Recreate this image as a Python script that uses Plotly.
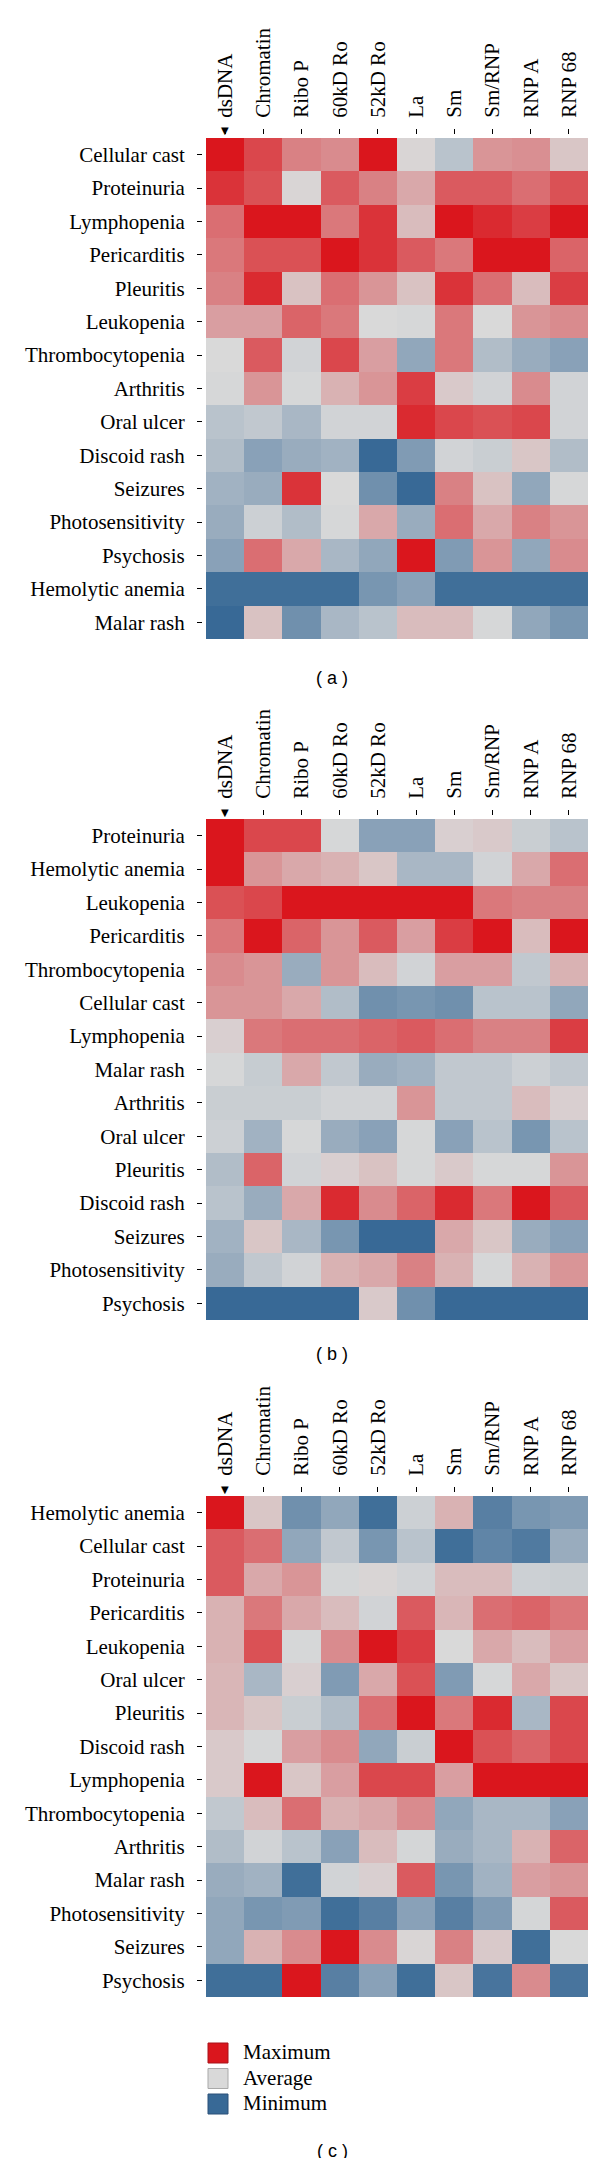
import plotly.graph_objects as go

W, H = 600, 2158

antigens = ["dsDNA", "Chromatin", "Ribo P", "60kD Ro", "52kD Ro", "La", "Sm", "Sm/RNP", "RNP A", "RNP 68"]

rows_a = ["Cellular cast", "Proteinuria", "Lymphopenia", "Pericarditis", "Pleuritis", "Leukopenia",
          "Thrombocytopenia", "Arthritis", "Oral ulcer", "Discoid rash", "Seizures", "Photosensitivity",
          "Psychosis", "Hemolytic anemia", "Malar rash"]
vals_a = [
    [1.00, 0.75, 0.45, 0.40, 1.00, 0.02, -0.20, 0.35, 0.38, 0.10],
    [0.85, 0.70, 0.02, 0.65, 0.45, 0.25, 0.65, 0.65, 0.55, 0.70],
    [0.55, 1.00, 1.00, 0.50, 0.85, 0.15, 1.00, 0.90, 0.80, 1.00],
    [0.50, 0.70, 0.70, 1.00, 0.85, 0.65, 0.50, 1.00, 1.00, 0.60],
    [0.45, 0.90, 0.12, 0.55, 0.35, 0.12, 0.85, 0.55, 0.15, 0.80],
    [0.30, 0.30, 0.60, 0.50, 0.00, -0.02, 0.50, 0.00, 0.35, 0.40],
    [0.00, 0.65, -0.05, 0.75, 0.30, -0.45, 0.50, -0.25, -0.40, -0.50],
    [-0.02, 0.35, -0.02, 0.20, 0.35, 0.80, 0.08, -0.05, 0.40, -0.05],
    [-0.20, -0.15, -0.30, -0.05, -0.05, 0.90, 0.75, 0.70, 0.75, -0.05],
    [-0.25, -0.50, -0.40, -0.35, -1.00, -0.55, -0.05, -0.10, 0.10, -0.25],
    [-0.35, -0.40, 0.85, 0.00, -0.65, -1.00, 0.45, 0.12, -0.45, -0.02],
    [-0.40, -0.08, -0.25, -0.02, 0.25, -0.40, 0.55, 0.25, 0.45, 0.35],
    [-0.50, 0.55, 0.25, -0.30, -0.45, 1.00, -0.55, 0.35, -0.45, 0.40],
    [-0.95, -0.95, -0.95, -0.95, -0.60, -0.50, -0.95, -0.95, -0.95, -0.95],
    [-1.00, 0.12, -0.65, -0.30, -0.20, 0.15, 0.15, -0.02, -0.45, -0.60],
]

rows_b = ["Proteinuria", "Hemolytic anemia", "Leukopenia", "Pericarditis", "Thrombocytopenia",
          "Cellular cast", "Lymphopenia", "Malar rash", "Arthritis", "Oral ulcer", "Pleuritis",
          "Discoid rash", "Seizures", "Photosensitivity", "Psychosis"]
vals_b = [
    [1.00, 0.75, 0.75, -0.02, -0.50, -0.50, 0.05, 0.08, -0.10, -0.20],
    [1.00, 0.35, 0.25, 0.20, 0.10, -0.30, -0.30, -0.05, 0.25, 0.55],
    [0.70, 0.75, 1.00, 1.00, 1.00, 1.00, 1.00, 0.50, 0.45, 0.45],
    [0.50, 1.00, 0.60, 0.35, 0.65, 0.30, 0.80, 1.00, 0.15, 1.00],
    [0.40, 0.35, -0.40, 0.35, 0.15, -0.05, 0.30, 0.30, -0.15, 0.20],
    [0.35, 0.35, 0.25, -0.25, -0.65, -0.60, -0.65, -0.20, -0.20, -0.45],
    [0.05, 0.50, 0.55, 0.55, 0.60, 0.65, 0.55, 0.45, 0.45, 0.80],
    [-0.02, -0.12, 0.25, -0.15, -0.40, -0.35, -0.15, -0.15, -0.08, -0.15],
    [-0.10, -0.10, -0.10, -0.05, -0.05, 0.35, -0.15, -0.15, 0.15, 0.05],
    [-0.08, -0.35, -0.02, -0.40, -0.50, -0.02, -0.50, -0.20, -0.60, -0.20],
    [-0.25, 0.60, -0.05, 0.05, 0.12, -0.02, 0.08, -0.02, -0.02, 0.35],
    [-0.20, -0.40, 0.25, 0.90, 0.40, 0.60, 0.90, 0.50, 1.00, 0.65],
    [-0.35, 0.10, -0.30, -0.60, -1.00, -1.00, 0.25, 0.10, -0.40, -0.50],
    [-0.40, -0.15, -0.05, 0.20, 0.25, 0.45, 0.20, -0.02, 0.20, 0.35],
    [-1.00, -1.00, -1.00, -1.00, 0.08, -0.65, -1.00, -1.00, -1.00, -1.00],
]

rows_c = ["Hemolytic anemia", "Cellular cast", "Proteinuria", "Pericarditis", "Leukopenia", "Oral ulcer",
          "Pleuritis", "Discoid rash", "Lymphopenia", "Thrombocytopenia", "Arthritis", "Malar rash",
          "Photosensitivity", "Seizures", "Psychosis"]
vals_c = [
    [1.00, 0.10, -0.65, -0.45, -0.95, -0.08, 0.20, -0.80, -0.60, -0.55],
    [0.65, 0.55, -0.45, -0.15, -0.60, -0.20, -0.95, -0.75, -0.85, -0.40],
    [0.65, 0.25, 0.35, -0.03, 0.02, -0.05, 0.15, 0.15, -0.08, -0.10],
    [0.20, 0.50, 0.25, 0.15, -0.05, 0.65, 0.18, 0.55, 0.60, 0.50],
    [0.20, 0.70, -0.02, 0.40, 1.00, 0.80, 0.00, 0.25, 0.15, 0.30],
    [0.18, -0.30, 0.05, -0.55, 0.25, 0.70, -0.55, -0.02, 0.25, 0.10],
    [0.18, 0.10, -0.10, -0.25, 0.55, 1.00, 0.50, 0.90, -0.30, 0.75],
    [0.08, -0.02, 0.30, 0.40, -0.45, -0.10, 1.00, 0.70, 0.60, 0.75],
    [0.08, 1.00, 0.10, 0.30, 0.75, 0.75, 0.30, 1.00, 1.00, 1.00],
    [-0.15, 0.15, 0.55, 0.20, 0.25, 0.40, -0.45, -0.30, -0.30, -0.50],
    [-0.25, -0.05, -0.20, -0.50, 0.15, -0.03, -0.40, -0.30, 0.20, 0.60],
    [-0.40, -0.35, -0.95, -0.05, 0.05, 0.65, -0.60, -0.35, 0.30, 0.35],
    [-0.45, -0.60, -0.55, -0.95, -0.80, -0.50, -0.80, -0.55, -0.03, 0.65],
    [-0.45, 0.20, 0.40, 1.00, 0.40, 0.02, 0.45, 0.08, -0.95, 0.00],
    [-0.95, -0.95, 1.00, -0.80, -0.50, -0.95, 0.10, -0.90, 0.40, -0.90],
]

captions = ["( a )", "( b )", "( c )"]
legend_labels = ["Maximum", "Average", "Minimum"]
legend_colors = ["#DA161D", "#D9D9D9", "#386996"]
legend_borders = ["#A8121A", "#A9A9A9", "#2A5078"]

colorscale = [[0.0, "#386996"], [0.5, "#D9D9D9"], [1.0, "#DA161D"]]

SERIF = "Liberation Serif, Times New Roman, serif"
SANS = "Liberation Sans, Arial, sans-serif"


def px_x(p):
    return p / W


def px_y(p):
    return 1 - p / H


left_px, right_px = 198, 580
row_h = 33.4
tops = [130, 811, 1488]
caption_y = [670, 1346, 2143]

fig = go.Figure()
layout = {}
annotations = []
shapes = []

panels = [(rows_a, vals_a), (rows_b, vals_b), (rows_c, vals_c)]
for i, (rows, vals) in enumerate(panels):
    sfx = "" if i == 0 else str(i + 1)
    top = tops[i]
    bottom = top + row_h * len(rows)
    fig.add_trace(go.Heatmap(
        z=vals, x=antigens, y=rows,
        xaxis="x" + sfx, yaxis="y" + sfx,
        colorscale=colorscale, zmin=-1, zmax=1,
        showscale=False, xgap=0, ygap=0,
    ))
    layout["xaxis" + sfx] = dict(
        domain=[px_x(left_px), px_x(right_px)],
        anchor="free", position=px_y(top - 4), side="top",
        type="category", categoryorder="array", categoryarray=antigens,
        ticks="outside", ticklen=5, tickwidth=1.3, tickcolor="black",
        tickangle=-90, ticklabelstandoff=7,
        tickfont=dict(family=SERIF, size=21, color="black"),
        showgrid=False, zeroline=False, showline=False, fixedrange=True,
    )
    layout["yaxis" + sfx] = dict(
        domain=[px_y(bottom), px_y(top)],
        anchor="free", position=px_x(left_px - 4),
        type="category", categoryorder="array", categoryarray=rows,
        autorange="reversed",
        ticks="outside", ticklen=5, tickwidth=1.3, tickcolor="black",
        ticklabelstandoff=8,
        tickfont=dict(family=SERIF, size=21, color="black"),
        showgrid=False, zeroline=False, showline=False, fixedrange=True,
    )
    # sort indicator on the first column
    annotations.append(dict(
        x=antigens[0], xref="x" + sfx, y=px_y(top - 7), yref="paper",
        text="▼", showarrow=False, xanchor="center", yanchor="middle",
        font=dict(family="DejaVu Sans", size=10, color="black"),
    ))
    annotations.append(dict(
        x=px_x(324), xref="paper", y=px_y(caption_y[i]), yref="paper",
        text=captions[i], showarrow=False, xanchor="center", yanchor="middle",
        font=dict(family=SANS, size=18, color="black"),
    ))

# legend swatches (panel c)
leg_top = 2035
for k, (lab, col, bcol) in enumerate(zip(legend_labels, legend_colors, legend_borders)):
    y0 = leg_top + k * 25.5
    shapes.append(dict(
        type="rect", xref="paper", yref="paper",
        x0=px_x(200), x1=px_x(220), y0=px_y(y0 + 20), y1=px_y(y0),
        fillcolor=col, line=dict(color=bcol, width=1),
    ))
    annotations.append(dict(
        x=px_x(233), xref="paper", y=px_y(y0 + 9), yref="paper",
        text=lab, showarrow=False, xanchor="left", yanchor="middle",
        font=dict(family=SERIF, size=21, color="black"),
    ))

fig.update_layout(
    width=W, height=H,
    margin=dict(l=0, r=0, t=0, b=0, autoexpand=False),
    paper_bgcolor="white", plot_bgcolor="white",
    showlegend=False,
    annotations=annotations, shapes=shapes,
    **layout,
)

fig.write_html("out.html")
